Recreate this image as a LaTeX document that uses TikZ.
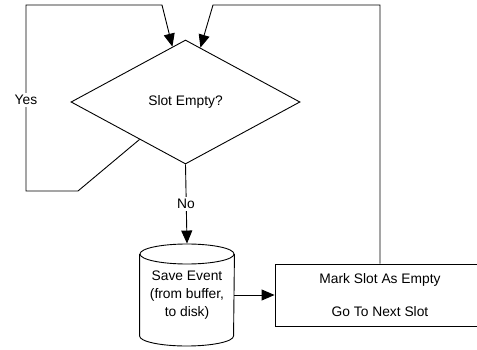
\documentclass[tikz,border=0pt]{standalone}
\usepackage{fontspec}
\setmainfont{Liberation Sans}
\usetikzlibrary{shapes.geometric,arrows.meta,calc}
\begin{document}
\begin{tikzpicture}[x=1pt,y=-1pt,line width=0.9pt,
  every node/.style={font=\fontsize{13.8}{16}\selectfont},
  flow/.style={draw=black,-{Triangle[length=13pt,width=11pt]}},
  lbl/.style={fill=white,inner sep=2pt},
  decision/.style={diamond,draw,minimum width=229pt,minimum height=124pt,inner sep=0pt},
  action/.style={rectangle,draw,minimum width=210pt,minimum height=62pt,inner sep=0pt,align=center,
    font=\fontsize{13.8}{33}\selectfont}]
\useasboundingbox (0,0) rectangle (477,350);
\clip (0,0) rectangle (477,350);

% decision
\node[decision] (d) at (185.5,102) {Slot Empty?};

% storage cylinder
\node[minimum width=94pt,minimum height=102pt,inner sep=0pt,align=center,
  font=\fontsize{13.8}{18}\selectfont] (save) at (187,295)
  {Save Event\\(from buffer,\\to disk)};
\draw (save.west |- 0,254) -- (save.west |- 0,336)
      arc[start angle=180,end angle=0,x radius=47,y radius=10]
      -- (save.east |- 0,254);
\draw (187,254) ellipse[x radius=47,y radius=10];

% action box
\node[action] (mark) at (380,295) {Mark Slot As Empty\\Go To Next Slot};

% Yes loop back to the decision
\coordinate (y0) at ($(d.west)!0.6!(d.south)$);
\coordinate (y1) at (78,191);
\coordinate (y2) at (26,191);
\coordinate (y3) at (26,5);
\coordinate (y4) at (162,5);
\coordinate (ytip) at ($(d.west)!0.886!(d.north)$);
\draw[flow] (y0) -- (y1) -- (y2) -- (y3) -- (y4) -- (ytip);
\node[lbl] (yes) at (26,100) {Yes};

% No branch
\draw[flow] (d.south) -- (save.north);
\node[lbl] (no) at (186,204) {No};

% save -> mark
\draw[flow] (save.east) -- (mark.west);

% loop from the action box back to the decision
\coordinate (m1) at (mark.north |- 0,5);
\coordinate (m2) at (213,5);
\coordinate (mtip) at ($(d.north)!0.13!(d.east)$);
\draw[flow] (mark.north) -- (m1) -- (m2) -- (mtip);
\end{tikzpicture}
\end{document}
